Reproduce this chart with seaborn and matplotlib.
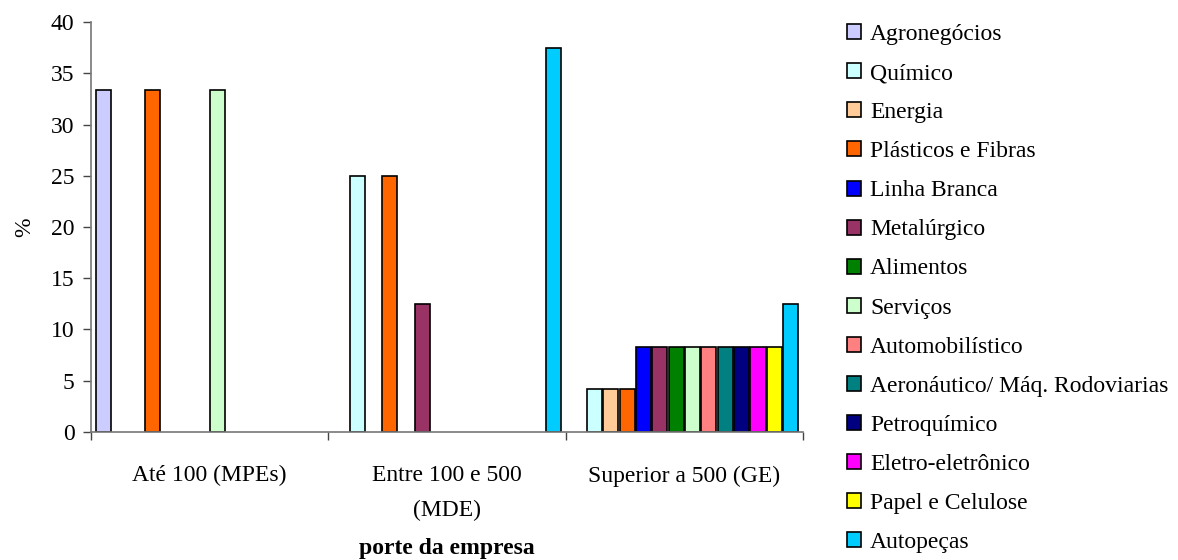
import matplotlib
matplotlib.use("Agg")
import matplotlib.pyplot as plt
from matplotlib.patches import Patch
import seaborn as sns
import pandas as pd

# Company size groups (x axis)
groups = ["Até 100 (MPEs)", "Entre 100 e 500\n(MDE)", "Superior a 500 (GE)"]

# Sectors (legend order)
sectors = [
    "Agronegócios", "Químico", "Energia", "Plásticos e Fibras", "Linha Branca",
    "Metalúrgico", "Alimentos", "Serviços", "Automobilístico",
    "Aeronáutico/ Máq. Rodoviarias", "Petroquímico", "Eletro-eletrônico",
    "Papel e Celulose", "Autopeças",
]

colors = [
    "#CCCCFF", "#CCFFFF", "#FFCC99", "#FF6600", "#0000FF", "#993366",
    "#008000", "#CCFFCC", "#FF8080", "#008080", "#000080", "#FF00FF",
    "#FFFF00", "#00CCFF",
]

# Share (%) of each sector within each company size group
ate_100 = [33.33, 0, 0, 33.33, 0, 0, 0, 33.33, 0, 0, 0, 0, 0, 0]
entre_100_500 = [0, 25.0, 0, 25.0, 0, 12.5, 0, 0, 0, 0, 0, 0, 0, 37.5]
superior_500 = [0, 4.17, 4.17, 4.17, 8.33, 8.33, 8.33, 8.33, 8.33, 8.33,
                8.33, 8.33, 8.33, 12.5]

rows = []
for g, vals in zip(groups, [ate_100, entre_100_500, superior_500]):
    for s, v in zip(sectors, vals):
        if v > 0:
            rows.append({"porte": g, "setor": s, "pct": v})
df = pd.DataFrame(rows)

sns.set_theme(style="white")
plt.rcParams["font.family"] = ["Liberation Serif", "DejaVu Serif"]
plt.rcParams["text.color"] = "black"
plt.rcParams["axes.labelcolor"] = "black"
plt.rcParams["xtick.color"] = "black"
plt.rcParams["ytick.color"] = "black"

FS = 17

fig = plt.figure(figsize=(11.78, 5.6), dpi=100)
ax = fig.add_axes([0.0773, 0.2286, 0.6044, 0.7321])

sns.barplot(
    data=df, x="porte", y="pct", hue="setor",
    order=groups, hue_order=sectors, palette=dict(zip(sectors, colors)),
    width=0.965, gap=0.08, dodge=True, saturation=1,
    edgecolor="black", linewidth=1.2, legend=False, ax=ax,
)

ax.set_xlim(-0.5, 2.5)
ax.set_ylim(0, 40)
ax.set_yticks(range(0, 41, 5))
ax.set_xticks([0, 1, 2])
ax.set_xticklabels(groups, fontsize=FS, linespacing=1.85)
ax.set_xticks([-0.5, 0.5, 1.5, 2.5], minor=True)
ax.tick_params(axis="x", which="major", length=0, pad=24, labelcolor="black")
ax.tick_params(axis="x", which="minor", length=6, width=1, color="#444444",
               direction="out", bottom=True)
ax.tick_params(axis="y", length=6, width=1, color="#444444", direction="out",
               left=True, labelsize=FS, pad=6, labelcolor="black")
for side in ("top", "right"):
    ax.spines[side].set_visible(False)
for side in ("left", "bottom"):
    ax.spines[side].set_color("#777777")
    ax.spines[side].set_linewidth(1.2)

ax.set_xlabel("porte da empresa", fontsize=FS, fontweight="bold", labelpad=12,
              color="black")
ax.set_ylabel("%", fontsize=FS, labelpad=11, color="black")

handles = [Patch(facecolor=c, edgecolor="black", linewidth=1.2) for c in colors]
fig.legend(
    handles, sectors, loc="upper left", bbox_to_anchor=(0.719, 0.957),
    frameon=False, fontsize=FS, handlelength=0.6, handleheight=0.6,
    handletextpad=0.38, labelspacing=0.765, borderaxespad=0, borderpad=0,
    labelcolor="black",
)

fig.savefig("out.png", dpi=100)
